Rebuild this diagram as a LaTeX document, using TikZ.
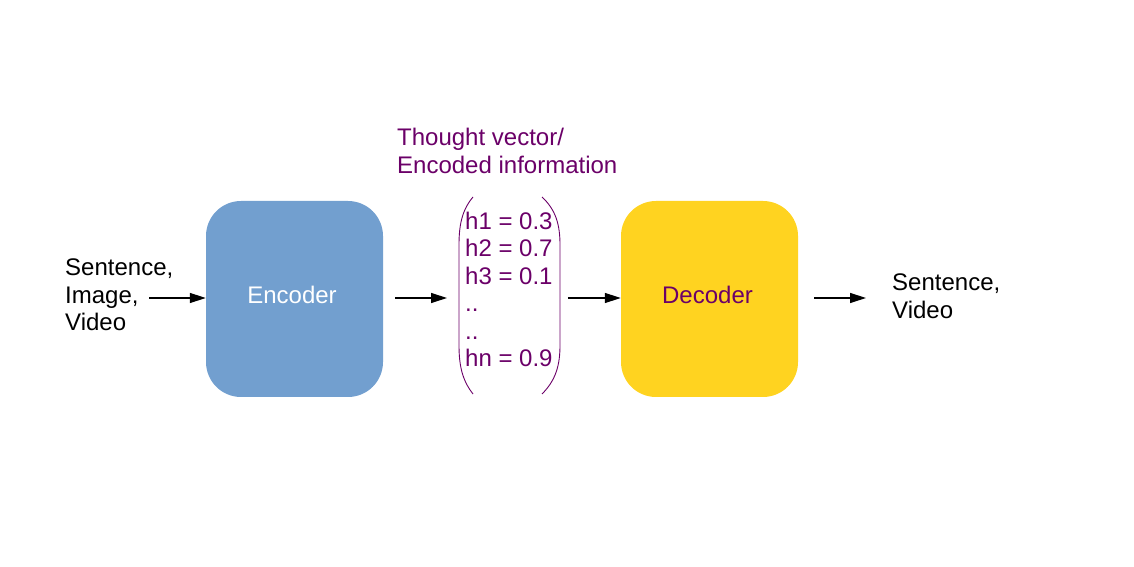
\documentclass[tikz,border=0pt]{standalone}
\usepackage{fontspec}
\setmainfont{Liberation Sans}
\usetikzlibrary{arrows.meta}
\usetikzlibrary{calc}

\definecolor{EncBlue}{HTML}{729FCF}
\definecolor{DecYellow}{HTML}{FFD320}
\definecolor{VecPurple}{HTML}{6B0068}

\begin{document}
\begin{tikzpicture}[x=1pt,y=1pt,
  txt/.style={font=\fontsize{24}{27.5}\selectfont, align=left, inner sep=0pt},
  block/.style={rounded corners=35pt, minimum width=177pt, minimum height=196pt, inner sep=0pt, text depth=9pt, font=\fontsize{24}{27.5}\selectfont},
  arr/.style={line width=1.2pt, -{Triangle[length=16pt,width=10pt]}}]
\def \sh{12}

\useasboundingbox (0,0) rectangle (1134,567);

% the two blocks
\node[block, fill=EncBlue, text=white] (enc) at (294.5,268) {\hspace*{-5pt}Encoder};
\node[block, fill=DecYellow, text=VecPurple] (dec) at (709.5,268) {\hspace*{-4pt}Decoder};

% texts
\node[txt, anchor=west] (inp) at (65,272) {Sentence,\\Image,\\Video};
\node[txt, anchor=west] (outp) at (892,271) {Sentence,\\Video};
\node[txt, anchor=west, text=VecPurple] (title) at (397,416) {Thought vector/\\Encoded information};
\node[txt, anchor=west, text=VecPurple] (vec) at (465,277.5) {h1 = 0.3\\h2 = 0.7\\h3 = 0.1\\..\\..\\hn = 0.9};

% brackets round the vector
\draw[VecPurple, line width=0.9pt] (473,370) .. controls (462,357) and (459,342) .. (459,322) -- (459,222) .. controls (459,202) and (462,187) .. (473,173);
\draw[VecPurple, line width=0.9pt] (542,370) .. controls (556,357) and (560,342) .. (560,322) -- (560,222) .. controls (560,202) and (556,187) .. (542,173);

\coordinate (inA) at (149,269);
\coordinate (outB) at (866,269);

\draw[arr] (inA) -- (enc.west |- inA);
\draw[arr, shorten <=\sh pt, shorten >=\sh pt] (enc.east |- inA) -- ($(vec.west |- inA)+(-6,0)$);
\draw[arr, shorten <=8pt] ($(vec.east |- inA)+(7,0)$) -- (dec.west |- inA);
\draw[arr, shorten <=16pt] (dec.east |- inA) -- (outB);

\end{tikzpicture}
\end{document}
